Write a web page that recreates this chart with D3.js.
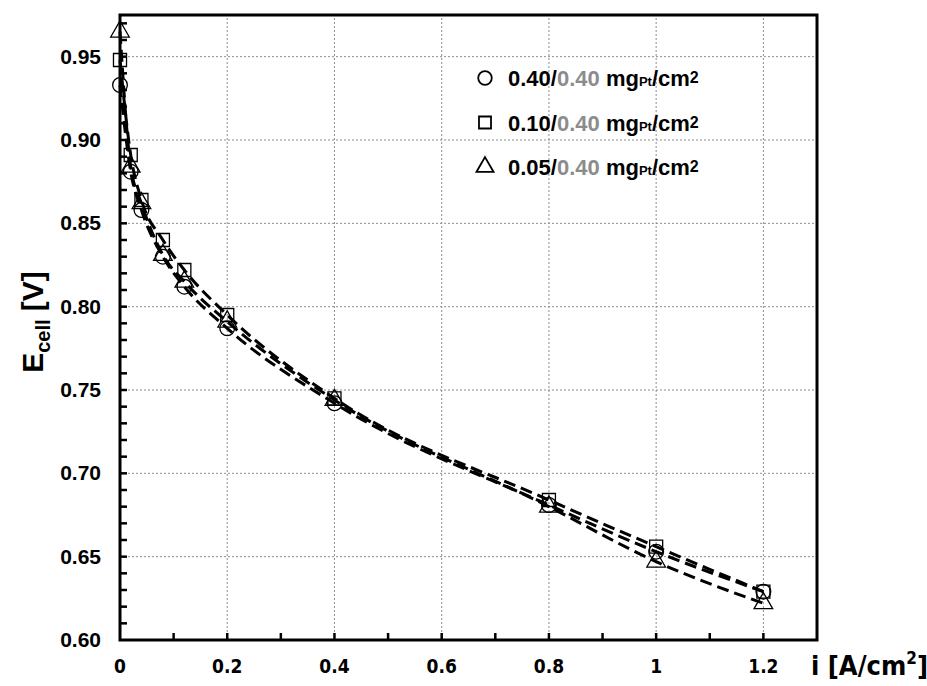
<!DOCTYPE html>
<html>
<head>
    <script src="https://d3js.org/d3.v7.min.js"></script>
    <style>
        body { margin: 0; background: #fff; }
        text { font-family: Arial, "Liberation Sans", sans-serif; font-weight: bold; }
        .narrow { font-family: "Liberation Sans Narrow", "Arial Narrow", "DejaVu Sans Condensed", sans-serif; }
    </style>
</head>
<body>
    <svg id="chart"></svg>
    <script>
        // Data
        const currents = [0, 0.02, 0.04, 0.08, 0.12, 0.2, 0.4, 0.8, 1.0, 1.2];
        const circleE = [0.933, 0.881, 0.858, 0.830, 0.812, 0.787, 0.742, 0.681, 0.653, 0.629];
        const squareE = [0.948, 0.891, 0.864, 0.840, 0.822, 0.795, 0.745, 0.684, 0.656, 0.629];
        const triangleE = [0.965, 0.884, 0.862, 0.831, 0.815, 0.791, 0.744, 0.680, 0.647, 0.622];
        const legendCathode = ["0.40", "0.10", "0.05"];
        const legendAnode = ["0.40", "0.40", "0.40"];
        const xTicks = [0, 0.2, 0.4, 0.6, 0.8, 1, 1.2];
        const yTicks = [0.60, 0.65, 0.70, 0.75, 0.80, 0.85, 0.90, 0.95];

        const width = 927, height = 686;
        const margin = {left: 120, top: 15, right: 110, bottom: 46};

        const svg = d3.select("#chart")
            .attr("width", width)
            .attr("height", height);

        const x = d3.scaleLinear().domain([0, 1.3]).range([margin.left, width - margin.right]);
        const y = d3.scaleLinear().domain([0.6, 0.975]).range([height - margin.bottom, margin.top]);

        // Grid lines
        const grid = svg.append("g").attr("stroke", "#8c8c8c").attr("stroke-dasharray", "2,2").attr("stroke-width", 1);
        grid.selectAll(".gx").data(xTicks.slice(1)).join("line")
            .attr("x1", d => x(d)).attr("x2", d => x(d))
            .attr("y1", y.range()[0]).attr("y2", y.range()[1]);
        grid.selectAll(".gy").data(yTicks.slice(1)).join("line")
            .attr("y1", d => y(d)).attr("y2", d => y(d))
            .attr("x1", x.range()[0]).attr("x2", x.range()[1]);

        // Minor ticks (inward)
        const yMinor = d3.range(61, 98).map(v => v / 100);
        svg.append("g").selectAll("line").data(yMinor).join("line")
            .attr("x1", x(0)).attr("x2", x(0) + 7)
            .attr("y1", d => y(d)).attr("y2", d => y(d))
            .attr("stroke", "#000").attr("stroke-width", 2.5);
        const xMinor = d3.range(1, 13).map(v => v / 10);
        svg.append("g").selectAll("line").data(xMinor).join("line")
            .attr("x1", d => x(d)).attr("x2", d => x(d))
            .attr("y1", y(0.6)).attr("y2", y(0.6) - 7)
            .attr("stroke", "#000").attr("stroke-width", 2.5);

        // Frame
        svg.append("rect")
            .attr("x", x.range()[0]).attr("y", y.range()[1])
            .attr("width", x.range()[1] - x.range()[0])
            .attr("height", y.range()[0] - y.range()[1])
            .attr("fill", "none").attr("stroke", "#000").attr("stroke-width", 3);

        // Tick labels
        svg.append("g").selectAll("text").data(yTicks).join("text")
            .attr("x", 101).attr("y", d => y(d) + 7)
            .attr("text-anchor", "end")
            .style("font-size", "21px")
            .text(d => d.toFixed(2));
        svg.append("g").selectAll("text").data(xTicks).join("text")
            .attr("class", "narrow")
            .attr("x", d => x(d)).attr("y", 673)
            .attr("text-anchor", "middle")
            .style("font-size", "19px")
            .text(d => d3.format("")(d));

        // Axis titles
        const xt = svg.append("text").attr("class", "narrow")
            .attr("x", 811).attr("y", 675).style("font-size", "27px");
        xt.append("tspan").text("i [A/cm");
        xt.append("tspan").attr("dy", -11).style("font-size", "17px").text("2");
        xt.append("tspan").attr("dy", 11).text("]");

        const yt = svg.append("text")
            .attr("transform", "translate(43, 322) rotate(-90)")
            .attr("text-anchor", "middle")
            .style("font-size", "30px");
        yt.append("tspan").text("E");
        yt.append("tspan").attr("dy", 7).style("font-size", "20px").text("cell");
        yt.append("tspan").attr("dy", -7).text(" [V]");

        // Series
        const series = [
            {vals: circleE, sym: d3.symbolCircle, size: 170},
            {vals: squareE, sym: d3.symbolSquare, size: 170},
            {vals: triangleE, sym: d3.symbolTriangle, size: 150}
        ];

        const line = d3.line()
            .x(d => x(d[0])).y(d => y(d[1]))
            .curve(d3.curveMonotoneX);

        series.forEach(s => {
            const pts = currents.map((c, i) => [c, s.vals[i]]);
            svg.append("path")
                .datum(pts)
                .attr("d", line)
                .attr("fill", "none")
                .attr("stroke", "#000")
                .attr("stroke-width", 3)
                .attr("stroke-dasharray", "12,6");
        });

        series.forEach(s => {
            const pts = currents.map((c, i) => [c, s.vals[i]]);
            svg.append("g").selectAll("path").data(pts).join("path")
                .attr("transform", d => `translate(${x(d[0])},${y(d[1])})`)
                .attr("d", d3.symbol().type(s.sym).size(s.size))
                .attr("fill", "none")
                .attr("stroke", "#000")
                .attr("stroke-width", 1.3);
        });

        // Legend
        const legend = svg.append("g");
        series.forEach((s, i) => {
            const ly = 78 + i * 44.5;
            legend.append("path")
                .attr("transform", `translate(485,${ly})`)
                .attr("d", d3.symbol().type(s.sym).size(s.size * 0.85))
                .attr("fill", "none").attr("stroke", "#000").attr("stroke-width", 1.8);
            const t = legend.append("text").attr("x", 508).attr("y", ly + 8).style("font-size", "22px");
            t.append("tspan").text(legendCathode[i] + "/");
            t.append("tspan").attr("fill", "#8c8c8c").text(legendAnode[i]);
            t.append("tspan").text(" mg");
            t.append("tspan").style("font-size", "13px").text("Pt");
            t.append("tspan").text("/cm");
            t.append("tspan").attr("dy", -3).style("font-size", "16px").text("2");
        });
    </script>
</body>
</html>
